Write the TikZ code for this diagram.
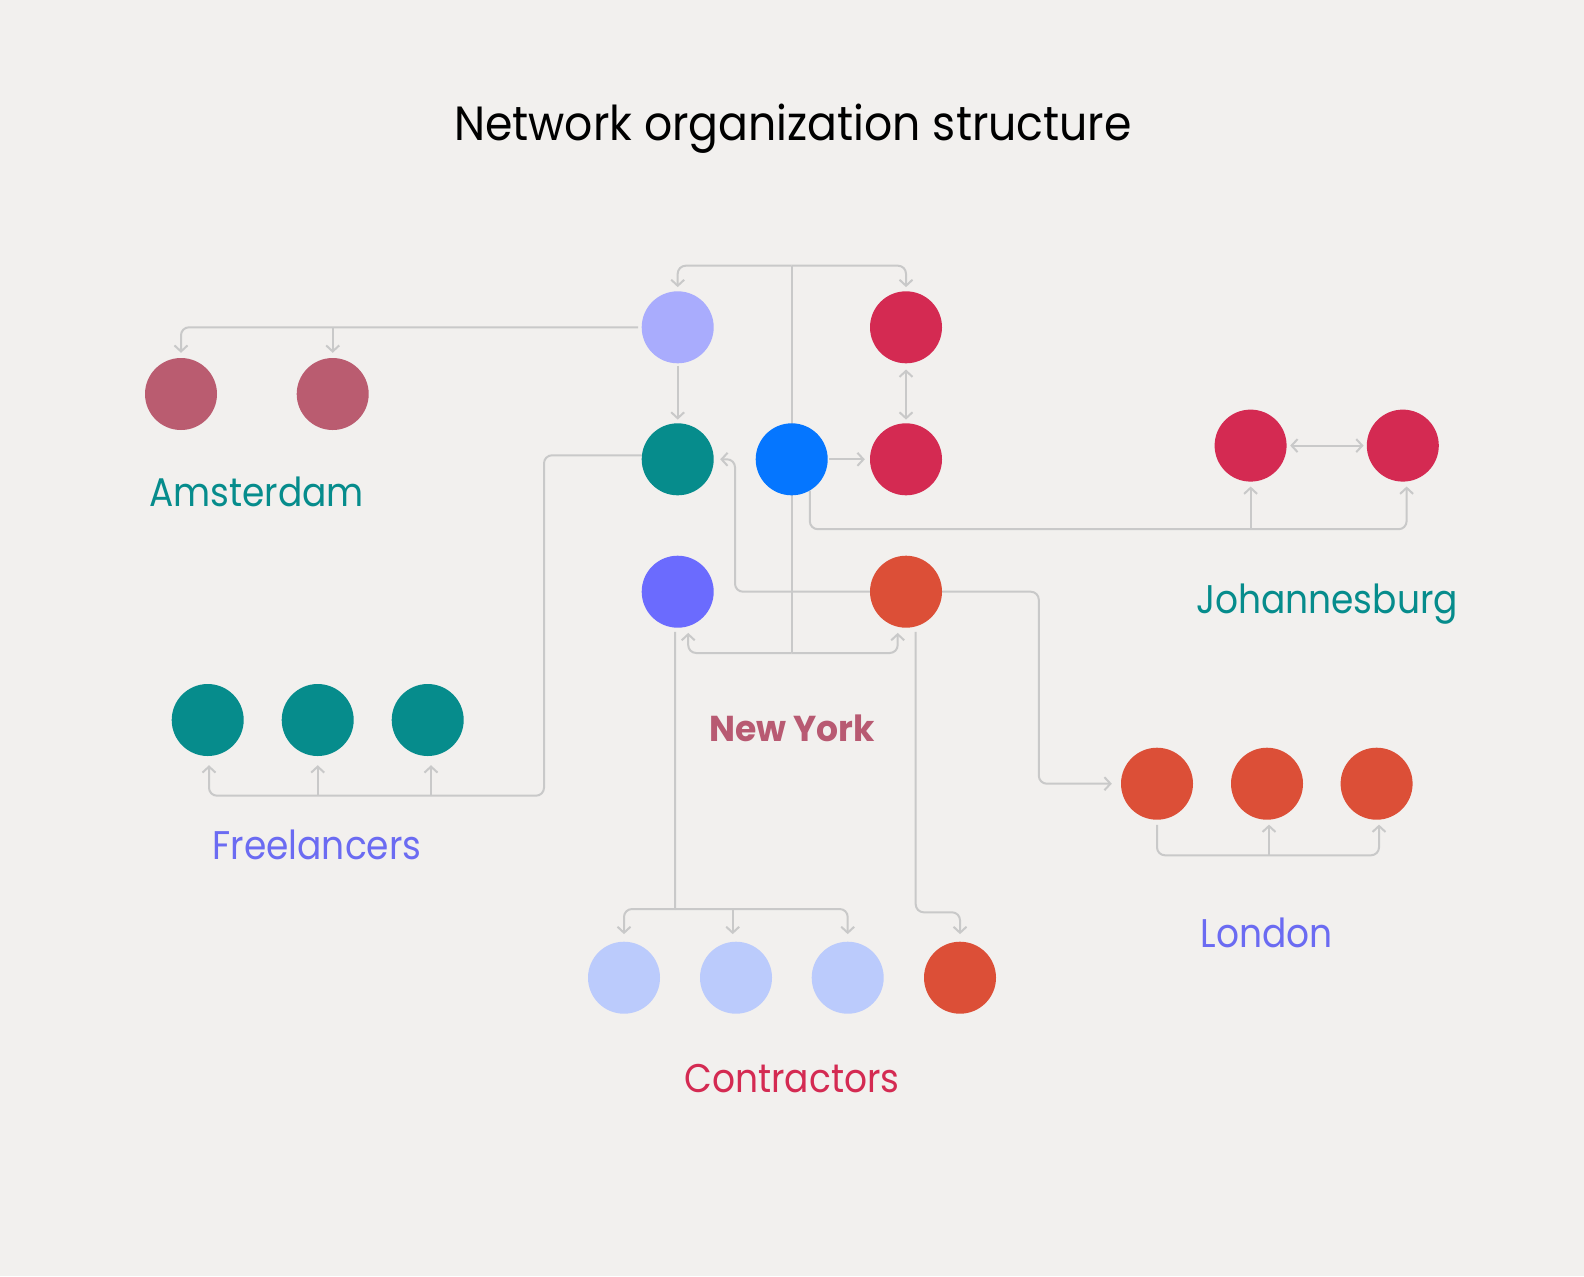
\documentclass[tikz,border=0pt]{standalone}
\usepackage{fontspec}
\setmainfont{Poppins}
\newfontfamily\titlefont[FakeStretch=0.92]{Poppins}
\newfontfamily\lblfont[FakeStretch=0.9]{Poppins}
\newfontfamily\nyfont[FakeStretch=0.96]{Poppins}
\usetikzlibrary{arrows.meta,calc}
\pgfdeclarelayer{bg}
\pgfsetlayers{bg,main}
\definecolor{bgc}{HTML}{F2F0EE}
\definecolor{lnc}{HTML}{C9C9C9}
\definecolor{lavc}{HTML}{A9ACFD}
\definecolor{redc}{HTML}{D42A52}
\definecolor{tealc}{HTML}{068C8C}
\definecolor{bluec}{HTML}{0576FF}
\definecolor{purpc}{HTML}{6B6BFE}
\definecolor{orngc}{HTML}{DC4F37}
\definecolor{amc}{HTML}{BA5C70}
\definecolor{ltc}{HTML}{BBCBFC}
\definecolor{nyc}{HTML}{B85A72}
\definecolor{purtxt}{HTML}{6B6BF2}
\begin{document}
\begin{tikzpicture}[x=1bp,y=-1bp,
  ball/.style={circle,minimum size=72bp,inner sep=0pt,fill=#1},
  conn/.style={draw=lnc,line width=2bp,rounded corners=8bp},
  arr/.style={conn,-{Straight Barb[length=6bp,width=13bp]}},
  darr/.style={conn,{Straight Barb[length=6bp,width=13bp]}-{Straight Barb[length=6bp,width=13bp]}},
  lbl/.style={anchor=base,font=\lblfont\fontsize{40bp}{48bp}\selectfont,inner sep=0pt}]
\begin{pgfonlayer}{bg}
\fill[bgc] (0,0) rectangle (1584,1276);
\end{pgfonlayer}
\useasboundingbox (0,0) rectangle (1584,1276);

\node[anchor=base,inner sep=0pt,font=\titlefont\fontsize{48bp}{58bp}\selectfont] (title) at (793,140.7) {Network organization structure};

% New York hub
\node[ball=lavc] (lav) at (677.7,327.3) {};
\node[ball=redc] (r1) at (906,327.3) {};
\node[ball=tealc] (teal0) at (677.7,459.3) {};
\node[ball=bluec] (blue) at (791.7,459.3) {};
\node[ball=redc] (r2) at (906,459.3) {};
\node[ball=purpc] (purp) at (677.7,591.7) {};
\node[ball=orngc] (orng) at (906,591.7) {};
% Amsterdam
\node[ball=amc] (am1) at (181,394) {};
\node[ball=amc] (am2) at (332.7,394) {};
% Freelancers
\node[ball=tealc] (fr1) at (207.7,720) {};
\node[ball=tealc] (fr2) at (317.7,720) {};
\node[ball=tealc] (fr3) at (427.7,720) {};
% Johannesburg
\node[ball=redc] (jb1) at (1250.6,445.6) {};
\node[ball=redc] (jb2) at (1402.8,445.6) {};
% London
\node[ball=orngc] (ld1) at (1157,783.7) {};
\node[ball=orngc] (ld2) at (1267,783.7) {};
\node[ball=orngc] (ld3) at (1376.6,783.7) {};
% Contractors
\node[ball=ltc] (ct1) at (624,977.7) {};
\node[ball=ltc] (ct2) at (736,977.7) {};
\node[ball=ltc] (ct3) at (847.7,977.7) {};
\node[ball=orngc] (ct4) at (960,977.7) {};

% labels
\node[lbl,text=tealc] (amst) at (256.4,506) {Amsterdam};
\node[lbl,text=purtxt] (free) at (317,859.3) {Freelancers};
\node[lbl,text=nyc,font=\nyfont\bfseries\fontsize{36bp}{44bp}\selectfont] (ny) at (792,741.7) {New York};
\node[lbl,text=redc] (contr) at (792,1092.7) {Contractors};
\node[lbl,text=tealc] (jburg) at (1327,613.6) {Johannesburg};
\node[lbl,text=purtxt] (lond) at (1266.8,947) {London};

\begin{pgfonlayer}{bg}
% central trunk
\coordinate (tb) at (791.7,265.7);
\coordinate (bb) at (791.7,653);
\draw[conn] (tb) -- (bb);
\draw[arr,shorten >=4bp] (tb) -| (lav.north);
\draw[arr,shorten >=4bp] (tb) -| (r1.north);
\coordinate (purpa) at ([xshift=10.5bp]purp.south);
\coordinate (ornga) at ([xshift=-8.3bp]orng.south);
\draw[arr,shorten >=5bp] (bb) -| (purpa);
\draw[arr,shorten >=5bp] (bb) -| (ornga);
% inner links
\draw[arr,shorten <=2bp,shorten >=3.5bp] (lav.south) -- (teal0.north);
\draw[darr,shorten <=6bp,shorten >=3.5bp] (r1.south) -- (r2.north);
\draw[arr,shorten <=1bp,shorten >=5bp] (blue.east) -- (r2.west);
\coordinate (tup) at (735,459.3);
\draw[arr,shorten >=6.3bp] (orng.west) -| (tup) -- (teal0.east);
% Johannesburg
\coordinate (jbc) at (1406.6,529.2);
\coordinate (jb2a) at ([xshift=3.8bp]jb2.south);
\draw[arr,shorten >=4.7bp] (blue.-60) |- (jbc) -- (jb2a);
\draw[arr,shorten >=4.7bp] (jb1.south |- jbc) -- (jb1.south);
\draw[darr,shorten <=3.4bp,shorten >=3bp] (jb1.east) -- (jb2.west);
% Amsterdam
\draw[arr,shorten <=3.5bp,shorten >=5bp] (lav.west) -| (am1.north);
\draw[arr,shorten >=5bp] (am2.north |- lav.west) -- (am2.north);
% Freelancers
\coordinate (frc) at (544,795.7);
\coordinate (fr1a) at ([xshift=1.3bp]fr1.south);
\coordinate (fr3a) at ([xshift=3.3bp]fr3.south);
\draw[arr,shorten >=9bp] ([yshift=4bp]teal0.west) -| (frc) -| (fr1a);
\draw[arr,shorten >=9bp] (fr2.south |- frc) -- (fr2.south);
\draw[arr,shorten >=9bp] (fr3a |- frc) -- (fr3a);
% London
\coordinate (ldx) at (1038.8,700);
\draw[arr,shorten >=9bp] (orng.east) -| (ld1.west -| ldx) -- (ld1.west);
\coordinate (ldb) at (1379,855.3);
\coordinate (ld2a) at ([xshift=2bp]ld2.south);
\coordinate (ld3a) at ([xshift=2.4bp]ld3.south);
\draw[arr,shorten <=5bp,shorten >=4.7bp] (ld1.south) |- (ldb) -- (ld3a);
\draw[arr,shorten >=4.7bp] (ld2a |- ldb) -- (ld2a);
% Contractors
\coordinate (ctc) at (675,909);
\coordinate (purpb) at ([xshift=-2.7bp,yshift=-4bp]purp.south);
\draw[conn] (purpb) -- (ctc);
\draw[arr,shorten >=7.4bp] (ctc) -| (ct1.north);
\draw[arr,shorten >=7.4bp] (ctc) -| (ct3.north);
\coordinate (ct2a) at ([xshift=-3.3bp]ct2.north);
\draw[arr,shorten >=7.4bp] (ct2a |- ctc) -- (ct2a);
\coordinate (ct4c) at (960,912.3);
\coordinate (orngb) at ([xshift=9.7bp,yshift=-4bp]orng.south);
\draw[arr,shorten >=7.4bp] (orngb) |- (ct4c) -- (ct4.north);
\end{pgfonlayer}
\end{tikzpicture}
\end{document}
